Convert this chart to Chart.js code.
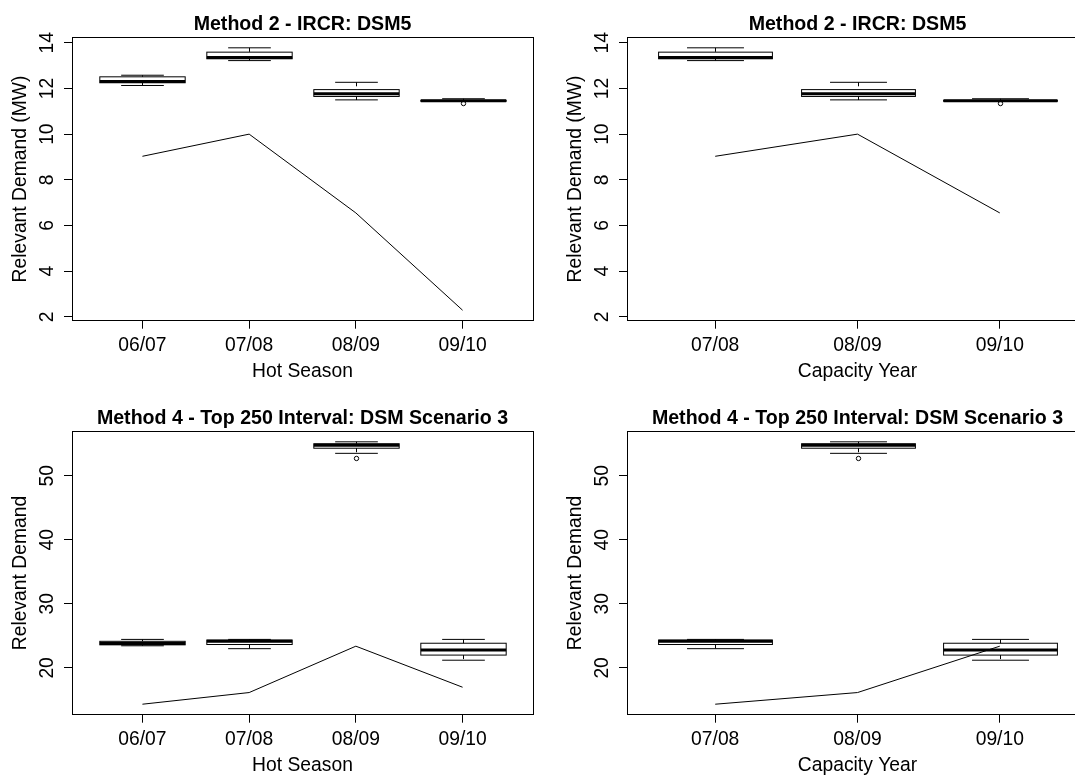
<!DOCTYPE html>
<html>
<head>
<meta charset="utf-8">
<title>Relevant Demand</title>
<script src="https://cdn.jsdelivr.net/npm/chart.js@4.4.1/dist/chart.umd.min.js"></script>
<style>
  body { margin: 0; background: #fff; overflow: hidden; }
  #page { position: relative; width: 1075px; height: 778px; overflow: hidden; background: #fff; }
  #page canvas { position: absolute; }
</style>
</head>
<body>
<div id="page">
  <canvas id="hot_ircr" width="555" height="394" style="left:0;top:-5px"></canvas>
  <canvas id="cap_ircr" width="555" height="394" style="left:555px;top:-5px"></canvas>
  <canvas id="hot_top250" width="555" height="394" style="left:0;top:389px"></canvas>
  <canvas id="cap_top250" width="555" height="394" style="left:555px;top:389px"></canvas>
</div>
<script>
// categories
const hotSeasons = ["06/07", "07/08", "08/09", "09/10"];
const capYears = ["07/08", "08/09", "09/10"];

// Method 2 (IRCR, DSM5) - boxplot stats per hot season
const ircrLow  = [12.13, 13.22, 11.50, 11.43];
const ircrQ1   = [12.25, 13.30, 11.65, 11.44];
const ircrMed  = [12.30, 13.36, 11.77, 11.46];
const ircrQ3   = [12.51, 13.59, 11.95, 11.48];
const ircrHigh = [12.58, 13.78, 12.27, 11.55];
const ircrOut  = [[], [], [], [11.34]];
const ircrLine = [9.03, 10.0, 6.55, 2.29];
const ircrTicks = [2, 4, 6, 8, 10, 12, 14];

// Method 4 (Top 250 interval, DSM scenario 3)
const top250Low  = [23.45, 23.0, 53.5, 21.2];
const top250Q1   = [23.6, 23.65, 54.3, 22.0];
const top250Med  = [23.8, 24.15, 54.75, 22.8];
const top250Q3   = [24.15, 24.35, 55.0, 23.85];
const top250High = [24.45, 24.45, 55.3, 24.45];
const top250Out  = [[], [], [52.7], []];
const top250Line = [14.33, 16.15, 23.39, 16.98];
const top250Ticks = [20, 30, 40, 50];

const FONT = "'Liberation Sans', Arial, Helvetica, sans-serif";
Chart.defaults.font.family = FONT;
Chart.defaults.color = "#000";

function boxStats(lo, q1, med, q3, hi, out) {
  return lo.map((v, i) => ({ lo: v, q1: q1[i], med: med[i], q3: q3[i], hi: hi[i], out: out[i] }));
}

// R style: data range padded by 4% on each side
function padRange(values) {
  const lo = Math.min(...values), hi = Math.max(...values);
  const d = (hi - lo) * 0.04;
  return [lo - d, hi + d];
}

function strokeLine(ctx, x1, y1, x2, y2) {
  ctx.beginPath();
  ctx.moveTo(x1, y1);
  ctx.lineTo(x2, y2);
  ctx.stroke();
}

// box and whisker marks, drawn on the chart's own x/y scales
const boxPlot = {
  id: "boxplot",
  beforeDatasetsDraw(chart, args, opts) {
    const x = chart.scales.x, y = chart.scales.y, ctx = chart.ctx;
    const unit = x.getPixelForValue(1) - x.getPixelForValue(0);
    const hw = unit * 0.4, sw = unit * 0.2;
    ctx.save();
    ctx.strokeStyle = "#000";
    opts.stats.forEach((s, i) => {
      const cx = Math.round(x.getPixelForValue(i + 1)) + 0.5;
      const yLo = y.getPixelForValue(s.lo), yQ1 = y.getPixelForValue(s.q1);
      const yMed = y.getPixelForValue(s.med), yQ3 = y.getPixelForValue(s.q3);
      const yHi = y.getPixelForValue(s.hi);
      ctx.lineWidth = 1;
      ctx.setLineDash([4, 4]);
      strokeLine(ctx, cx, yHi, cx, yQ3);
      strokeLine(ctx, cx, yQ1, cx, yLo);
      ctx.setLineDash([]);
      strokeLine(ctx, cx - sw, yHi, cx + sw, yHi);
      strokeLine(ctx, cx - sw, yLo, cx + sw, yLo);
      ctx.strokeRect(cx - hw, yQ3, hw * 2, yQ1 - yQ3);
      ctx.lineWidth = 3;
      strokeLine(ctx, cx - hw, yMed, cx + hw, yMed);
      ctx.lineWidth = 1;
      s.out.forEach(v => {
        ctx.beginPath();
        ctx.arc(cx, y.getPixelForValue(v), 2.2, 0, Math.PI * 2);
        ctx.stroke();
      });
    });
    ctx.restore();
  }
};

// box around the plot region
const frame = {
  id: "frame",
  afterDraw(chart) {
    const a = chart.chartArea, ctx = chart.ctx;
    ctx.save();
    ctx.strokeStyle = "#000";
    ctx.lineWidth = 1;
    ctx.strokeRect(Math.round(a.left) + 0.5, Math.round(a.top) + 0.5,
      Math.round(a.right - a.left), Math.round(a.bottom - a.top));
    ctx.restore();
  }
};

const tickFont = { family: FONT, size: 19.3 };

function panel(id, cats, stats, line, yTicks, yRange, title, xTitle, yTitle) {
  const n = cats.length;
  return new Chart(document.getElementById(id), {
    type: "line",
    data: {
      datasets: [{
        data: line.map((v, i) => ({ x: i + 1, y: v })),
        borderColor: "#000",
        borderWidth: 1,
        pointRadius: 0,
        tension: 0,
        fill: false
      }]
    },
    options: {
      responsive: false,
      animation: false,
      devicePixelRatio: 1,
      layout: { padding: { left: 0, right: 22, top: 0, bottom: 0 } },
      plugins: {
        legend: { display: false },
        tooltip: { enabled: false },
        title: {
          display: true,
          text: title,
          fullSize: false,
          color: "#000",
          font: { family: FONT, size: 19.6, weight: "bold", lineHeight: 1.2 },
          padding: { top: 18.2, bottom: 0.6 }
        },
        boxplot: { stats: stats }
      },
      scales: {
        x: {
          type: "linear",
          min: 0.5 - 0.04 * n,
          max: n + 0.5 + 0.04 * n,
          afterBuildTicks: s => { s.ticks = cats.map((c, i) => ({ value: i + 1 })); },
          afterFit: s => { s.height = 68.3; },
          ticks: { callback: (v, i) => cats[i], font: tickFont, color: "#000", padding: 5.6, maxRotation: 0, autoSkip: false },
          grid: { drawOnChartArea: false, drawTicks: true, tickLength: 8, tickColor: "#000" },
          border: { display: false },
          title: { display: true, text: xTitle, color: "#000", font: tickFont, padding: { top: 0, bottom: 5.4 } }
        },
        y: {
          type: "linear",
          min: yRange[0],
          max: yRange[1],
          afterBuildTicks: s => { s.ticks = yTicks.map(v => ({ value: v })); },
          afterFit: s => { s.width = 72; },
          ticks: { font: tickFont, color: "#000", padding: 5.5, minRotation: 90, maxRotation: 90, crossAlign: "center", autoSkip: false },
          grid: { drawOnChartArea: false, drawTicks: true, tickLength: 8, tickColor: "#000" },
          border: { display: false },
          title: { display: true, text: yTitle, color: "#000", font: tickFont, padding: { top: 9.4, bottom: 0 } }
        }
      }
    },
    plugins: [boxPlot, frame]
  });
}

const ircrStats = boxStats(ircrLow, ircrQ1, ircrMed, ircrQ3, ircrHigh, ircrOut);
const top250Stats = boxStats(top250Low, top250Q1, top250Med, top250Q3, top250High, top250Out);

const ircrRange = padRange([...ircrLow, ...ircrHigh, ...ircrOut.flat(), ...ircrLine]);
const top250Range = padRange([...top250Low, ...top250High, ...top250Out.flat(), ...top250Line]);

const ircrTitle = "Method 2 - IRCR: DSM5";
const top250Title = "Method 4 - Top 250 Interval: DSM Scenario 3";

panel("hot_ircr", hotSeasons, ircrStats, ircrLine, ircrTicks, ircrRange,
  ircrTitle, "Hot Season", "Relevant Demand (MW)");
panel("cap_ircr", capYears, ircrStats.slice(1), ircrLine.slice(0, 3), ircrTicks, ircrRange,
  ircrTitle, "Capacity Year", "Relevant Demand (MW)");
panel("hot_top250", hotSeasons, top250Stats, top250Line, top250Ticks, top250Range,
  top250Title, "Hot Season", "Relevant Demand");
panel("cap_top250", capYears, top250Stats.slice(1), top250Line.slice(0, 3), top250Ticks, top250Range,
  top250Title, "Capacity Year", "Relevant Demand");
</script>
</body>
</html>
